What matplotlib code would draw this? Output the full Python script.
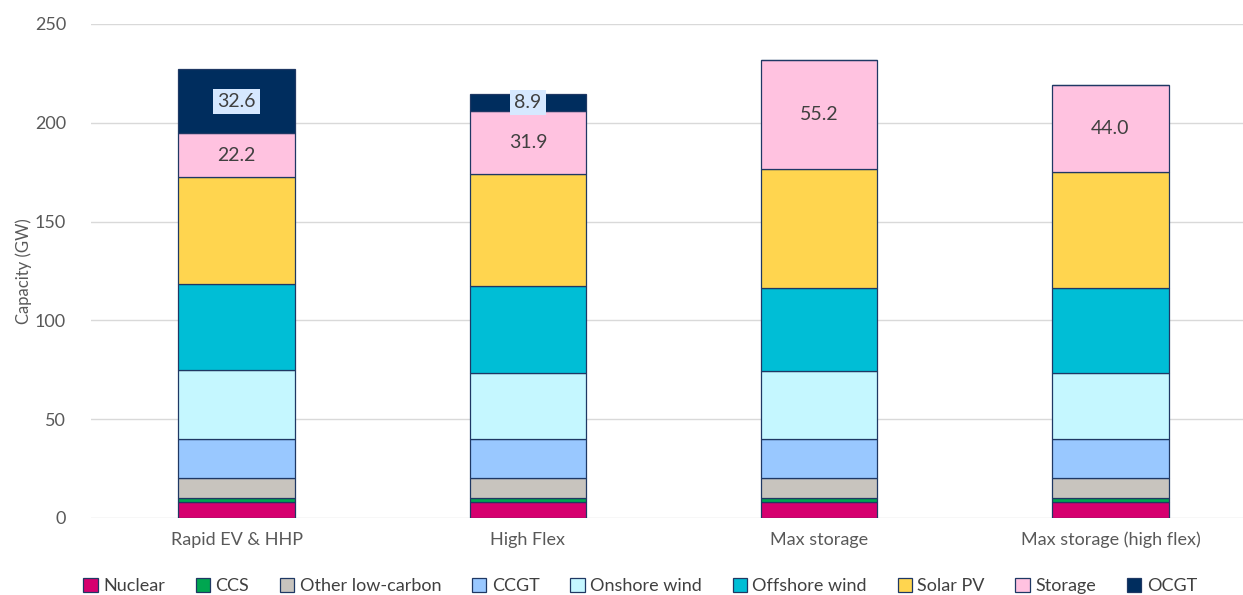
import matplotlib.pyplot as plt
import numpy as np

plt.rcParams['font.family'] = ['Lato', 'DejaVu Sans']

scenarios = ['Rapid EV & HHP', 'High Flex', 'Max storage', 'Max storage (high flex)']
techs = ['Nuclear', 'CCS', 'Other low-carbon', 'CCGT', 'Onshore wind',
         'Offshore wind', 'Solar PV', 'Storage', 'OCGT']
colors = ['#D6006F', '#00A650', '#C8C4BE', '#99C8FF', '#C5F7FF',
          '#00BED6', '#FFD54F', '#FFC2E0', '#002D5E']

nuclear = [8.0, 8.0, 8.0, 8.0]
ccs = [2.0, 2.0, 2.0, 2.0]
other = [10.0, 10.0, 10.0, 10.0]
ccgt = [20.0, 20.0, 20.0, 20.0]
onshore = [34.7, 33.2, 34.4, 33.2]
offshore = [43.7, 44.2, 41.8, 43.0]
solar = [54.0, 56.5, 60.4, 58.8]
storage = [22.2, 31.9, 55.2, 44.0]
ocgt = [32.6, 8.9, 0.0, 0.0]

series = [nuclear, ccs, other, ccgt, onshore, offshore, solar, storage, ocgt]

W, H = 1243, 595
fig = plt.figure(figsize=(W / 100, H / 100), dpi=100)
ax = fig.add_axes([91 / W, 77 / H, (W - 91) / W, 494 / H])

x = np.arange(len(scenarios))
bottom = np.zeros(len(scenarios))
for name, vals, c in zip(techs, series, colors):
    vals = np.array(vals)
    ax.bar(x, vals, 0.4, bottom=bottom, color=c, edgecolor='#1F3864',
           linewidth=0.9, label=name)
    for i, v in enumerate(vals):
        if name == 'Storage':
            ax.text(x[i], bottom[i] + v / 2, f'{v:.1f}', ha='center', va='center',
                    fontsize=14, color='#404040')
        elif name == 'OCGT' and v > 0:
            ax.text(x[i], bottom[i] + v / 2, f'{v:.1f}', ha='center', va='center',
                    fontsize=14, color='#404040',
                    bbox=dict(facecolor='#D6E8FF', edgecolor='none', pad=3))
    bottom += vals

ax.set_xlim(-0.5, 3.455)
ax.set_ylim(0, 250)
ax.set_yticks(range(0, 251, 50))
ax.set_xticks(x)
ax.set_xticklabels(scenarios)
ax.yaxis.grid(True, color='#D9D9D9', linewidth=1)
ax.set_axisbelow(True)
for s in ax.spines.values():
    s.set_visible(False)
ax.tick_params(axis='both', length=0, labelsize=13, colors='#595959', pad=10)
ax.tick_params(axis='y', pad=18)
ax.set_ylabel('Capacity (GW)', fontsize=12, color='#595959', labelpad=2)

fig.legend(loc='center', bbox_to_anchor=(640 / W, 9 / H), ncol=9, frameon=False,
           fontsize=13, labelcolor='#404040', handlelength=0.8, handleheight=0.8,
           handletextpad=0.3, columnspacing=1.7)

fig.savefig('out.png', dpi=100)
